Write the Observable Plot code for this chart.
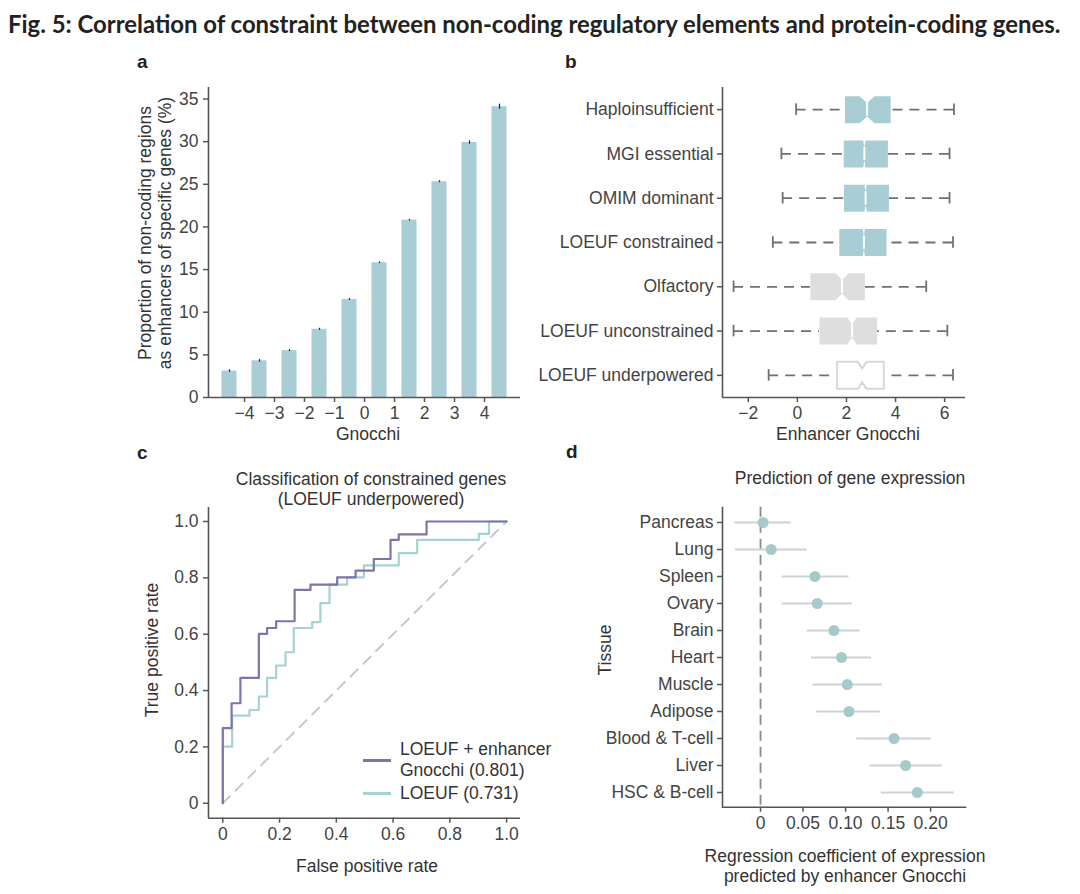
<!DOCTYPE html>
<html><head><meta charset="utf-8">
<script src="https://cdn.jsdelivr.net/npm/d3@7"></script>
<script src="https://cdn.jsdelivr.net/npm/@observablehq/plot@0.6"></script>
<style>
body{margin:0;background:#fff;}
#root{position:relative;width:1080px;height:894px;overflow:hidden;font-family:"Liberation Sans",Arial,sans-serif;color:#333;background:#fff;}
.abs{position:absolute;white-space:nowrap;line-height:1.15;}
.lab{font-size:17.5px;color:#333;transform:translate(-50%,-50%);text-align:center;}
.rot{transform:translate(-50%,-50%) rotate(-90deg);}
.letter{font-weight:bold;font-size:19px;color:#222;transform:translate(0,-50%);}
#title{left:8px;top:12px;font-family:Lato,"Liberation Sans",sans-serif;font-weight:bold;font-size:21px;color:#222;line-height:1;}
.leg{font-size:17.5px;color:#333;}
</style></head><body><div id="root"></div>
<script>
// ---------- Panel a data ----------
const gnocchiBins = [-4.5, -3.5, -2.5, -1.5, -0.5, 0.5, 1.5, 2.5, 3.5, 4.5];
const enhancerPct = [3.1, 4.3, 5.5, 8.0, 11.5, 15.8, 20.8, 25.3, 29.9, 34.1];
const enhancerErr = [0.15, 0.15, 0.12, 0.12, 0.1, 0.1, 0.1, 0.12, 0.2, 0.3];
const gnocchiTicks = [-4, -3, -2, -1, 0, 1, 2, 3, 4];
const pctTicks = [0, 5, 10, 15, 20, 25, 30, 35];

// ---------- Panel b data ----------
const geneSets = ["Haploinsufficient", "MGI essential", "OMIM dominant", "LOEUF constrained", "Olfactory", "LOEUF unconstrained", "LOEUF underpowered"];
const geneSetGroup = ["constrained", "constrained", "constrained", "constrained", "neutral", "neutral", "underpowered"];
const boxLow    = [-0.05, -0.65, -0.6, -1.0, -2.6, -2.6, -1.17];
const boxQ1     = [1.94, 1.89, 1.9, 1.71, 0.53, 0.9, 1.62];
const boxMedian = [2.84, 2.73, 2.78, 2.71, 1.82, 2.23, 2.64];
const boxQ3     = [3.8, 3.69, 3.73, 3.63, 2.75, 3.25, 3.52];
const boxHigh   = [6.38, 6.2, 6.2, 6.34, 5.25, 6.11, 6.34];
const boxNotch  = [0.3, 0.05, 0.05, 0.04, 0.26, 0.2, 0.17];
const enhancerTicks = [-2, 0, 2, 4, 6];

// ---------- Panel c data ----------
const rocFprCombined = [0, 0, 0.031, 0.062, 0.127, 0.156, 0.188, 0.253, 0.309, 0.403, 0.468, 0.532, 0.591, 0.62, 0.718, 1.0];
const rocTprCombined = [0, 0.267, 0.355, 0.445, 0.601, 0.622, 0.646, 0.757, 0.776, 0.802, 0.826, 0.867, 0.935, 0.954, 1.0, 1.0];
const rocFprLoeuf = [0, 0, 0.033, 0.094, 0.127, 0.156, 0.188, 0.221, 0.25, 0.315, 0.344, 0.376, 0.438, 0.497, 0.62, 0.685, 0.902, 0.938, 1.0];
const rocTprLoeuf = [0, 0.201, 0.311, 0.331, 0.379, 0.445, 0.489, 0.536, 0.622, 0.643, 0.71, 0.776, 0.802, 0.844, 0.888, 0.935, 0.956, 1.0, 1.0];
const chanceLine = [0, 1];
const rateTicks = [0, 0.2, 0.4, 0.6, 0.8, 1.0];
const rocLabels = ["LOEUF + enhancer\nGnocchi (0.801)", "LOEUF (0.731)"];

// ---------- Panel d data ----------
const tissues = ["Pancreas", "Lung", "Spleen", "Ovary", "Brain", "Heart", "Muscle", "Adipose", "Blood & T-cell", "Liver", "HSC & B-cell"];
const coefEstimate = [0.003, 0.0125, 0.064, 0.0667, 0.0863, 0.0953, 0.102, 0.104, 0.157, 0.1706, 0.1843];
const coefLow  = [-0.030, -0.0294, 0.0255, 0.0255, 0.055, 0.060, 0.0616, 0.0659, 0.113, 0.1286, 0.142];
const coefHigh = [0.036, 0.055, 0.104, 0.108, 0.117, 0.1306, 0.143, 0.141, 0.2008, 0.2137, 0.228];
const coefTicks = [0, 0.05, 0.10, 0.15, 0.20];

// ---------- styles ----------
const TEAL = "#a9cdd4", GREY = "#dedede", PURPLE = "#7c76a8", ROC_TEAL = "#a6d2d1", DOT = "#a6c9cb", CI = "#cbd4d5";
const AXIS_COLOR = "#444";
const baseStyle = {fontFamily: '"Liberation Sans", Arial, sans-serif', fontSize: "17.5px", color: AXIS_COLOR, background: "transparent", overflow: "visible"};
const minus = d => d < 0 ? "\u2212" + Math.abs(d) : String(d);
const axisOpts = {label: null, tickSize: 5, strokeWidth: 1.5, stroke: "#555"};
const axisLineStyle = {stroke: "#555", strokeWidth: 1.6};

const root = document.getElementById("root");
function put(svg, left, top) {
  svg.style.position = "absolute"; svg.style.left = left + "px"; svg.style.top = top + "px";
  root.appendChild(svg);
}
function place(html, cx, cy, cls) {
  const d = document.createElement("div");
  d.className = "abs " + cls; d.innerHTML = html;
  d.style.left = cx + "px"; d.style.top = cy + "px";
  root.appendChild(d); return d;
}
// axis lines along the left and bottom edges of the frame (domain minima)
function frameLines(xDomain, yBottom) {
  return [Plot.ruleX([xDomain[0]], axisLineStyle), Plot.ruleY([yBottom], axisLineStyle)];
}

// ---------- Panel a ----------
const xDomA = [-5.2, 5.2], yDomA = [0, 36.35];
const dataA = gnocchiBins.map((g, i) => ({g, v: enhancerPct[i], e: enhancerErr[i]}));
put(Plot.plot({
  width: 420, height: 380, marginLeft: 88, marginRight: 20, marginTop: 17, marginBottom: 53,
  style: baseStyle,
  x: {domain: xDomA},
  y: {domain: yDomA},
  marks: [
    Plot.rectY(dataA, {x1: d => d.g - 0.25, x2: d => d.g + 0.25, y: "v", fill: TEAL}),
    Plot.ruleX(dataA, {x: "g", y1: d => d.v - d.e, y2: d => d.v + d.e, stroke: "#222", strokeWidth: 1.2}),
    ...frameLines(xDomA, yDomA[0]),
    Plot.axisX({...axisOpts, ticks: gnocchiTicks, tickFormat: minus}),
    Plot.axisY({...axisOpts, ticks: pctTicks, tickPadding: 5})
  ]
}), 120, 70);

// ---------- Panel b ----------
const xDomB = [-3.05, 6.85], yDomB = [-0.5, 6.5];
const H = 0.305;
const rowsB = geneSets.map((name, i) => ({i, name, group: geneSetGroup[i], lo: boxLow[i], q1: boxQ1[i], med: boxMedian[i], q3: boxQ3[i], hi: boxHigh[i], n: boxNotch[i]}));
const poly = rowsB.flatMap(r => [
  [r.q1, r.i - H], [r.med - r.n, r.i - H], [r.med, r.i - H / 2], [r.med + r.n, r.i - H], [r.q3, r.i - H],
  [r.q3, r.i + H], [r.med + r.n, r.i + H], [r.med, r.i + H / 2], [r.med - r.n, r.i + H], [r.q1, r.i + H]
].map(([x, y]) => ({x, y, row: r.i, group: r.group})));
const whiskerStyle = {stroke: "#707070", strokeWidth: 1.8};
put(Plot.plot({
  width: 450, height: 380, marginLeft: 192, marginRight: 15, marginTop: 17, marginBottom: 53,
  style: baseStyle,
  x: {domain: xDomB},
  y: {domain: yDomB, reverse: true},
  marks: [
    Plot.ruleY(rowsB, {y: "i", x1: "lo", x2: "q1", ...whiskerStyle, strokeDasharray: "10,7"}),
    Plot.ruleY(rowsB, {y: "i", x1: "hi", x2: "q3", ...whiskerStyle, strokeDasharray: "10,7"}),
    Plot.ruleX(rowsB, {x: "lo", y1: d => d.i - 0.13, y2: d => d.i + 0.13, ...whiskerStyle}),
    Plot.ruleX(rowsB, {x: "hi", y1: d => d.i - 0.13, y2: d => d.i + 0.13, ...whiskerStyle}),
    Plot.line(poly.filter(d => d.group === "constrained"), {x: "x", y: "y", z: "row", fill: TEAL, stroke: "none", curve: "linear-closed"}),
    Plot.line(poly.filter(d => d.group === "neutral"), {x: "x", y: "y", z: "row", fill: GREY, stroke: "none", curve: "linear-closed"}),
    Plot.line(poly.filter(d => d.group === "underpowered"), {x: "x", y: "y", z: "row", fill: "white", stroke: "#d8d8d8", strokeWidth: 2, curve: "linear-closed"}),
    Plot.ruleX(rowsB.filter(d => d.group !== "underpowered"), {x: "med", y1: d => d.i - H / 2, y2: d => d.i + H / 2, stroke: "white", strokeWidth: 2}),
    ...frameLines(xDomB, yDomB[1]),
    Plot.axisX({...axisOpts, ticks: enhancerTicks, tickFormat: minus}),
    Plot.axisY({...axisOpts, ticks: geneSets.map((_, i) => i), tickFormat: i => geneSets[i], tickPadding: 4})
  ]
}), 530, 70);

// ---------- Panel c ----------
const xDomC = [-0.0504, 1.049], yDomC = [-0.053, 1.0497];
const rocA = rocFprCombined.map((x, i) => ({x, y: rocTprCombined[i]}));
const rocB = rocFprLoeuf.map((x, i) => ({x, y: rocTprLoeuf[i]}));
const fmt1 = d => d === 0 ? "0" : d.toFixed(1);
put(Plot.plot({
  width: 420, height: 370, marginLeft: 88, marginRight: 20, marginTop: 17, marginBottom: 42.3,
  style: baseStyle,
  x: {domain: xDomC},
  y: {domain: yDomC},
  marks: [
    Plot.line(chanceLine, {x: d => d, y: d => d, stroke: "#c8c8c8", strokeWidth: 2, strokeDasharray: "10,8"}),
    Plot.line(rocB, {x: "x", y: "y", curve: "step-after", stroke: ROC_TEAL, strokeWidth: 2.2}),
    Plot.line(rocA, {x: "x", y: "y", curve: "step-after", stroke: PURPLE, strokeWidth: 2.2}),
    ...frameLines(xDomC, yDomC[0]),
    Plot.axisX({...axisOpts, ticks: rateTicks, tickFormat: fmt1}),
    Plot.axisY({...axisOpts, ticks: rateTicks, tickFormat: fmt1, tickPadding: 5})
  ]
}), 120, 490);

// ---------- Panel d ----------
const xDomD = [-0.0447, 0.241];
const dataD = tissues.map((t, i) => ({t, est: coefEstimate[i], lo: coefLow[i], hi: coefHigh[i]}));
const fmt2 = d => d === 0 ? "0" : d.toFixed(2);
put(Plot.plot({
  width: 450, height: 370, marginLeft: 192, marginRight: 15, marginTop: 16.7, marginBottom: 53.3,
  style: baseStyle,
  x: {domain: xDomD},
  y: {domain: tissues, type: "point", padding: 0.5},
  marks: [
    Plot.ruleX([0], {stroke: "#8a8a8a", strokeWidth: 1.8, strokeDasharray: "10,6"}),
    Plot.ruleY(dataD, {y: "t", x1: "lo", x2: "hi", stroke: CI, strokeWidth: 2}),
    Plot.dot(dataD, {x: "est", y: "t", r: 5.5, fill: DOT, stroke: "none"}),
    Plot.ruleX([xDomD[0]], axisLineStyle),
    Plot.frame({anchor: "bottom", ...axisLineStyle}),
    Plot.axisX({...axisOpts, ticks: coefTicks, tickFormat: fmt2}),
    Plot.axisY({...axisOpts, tickPadding: 4})
  ]
}), 530, 490);

// ---------- Texts ----------
const title = document.createElement("div");
title.id = "title"; title.className = "abs";
title.textContent = "Fig. 5: Correlation of constraint between non-coding regulatory elements and protein-coding genes.";
root.appendChild(title);
{
  const target = 1052; let fs = 21;
  for (let k = 0; k < 4; k++) { const w = title.getBoundingClientRect().width; fs = fs * target / w; title.style.fontSize = fs + "px"; }
}

place("a", 137, 62, "letter");
place("b", 565, 62, "letter");
place("c", 137, 453, "letter");
place("d", 566, 452, "letter");

place("Proportion of non-coding regions<br>as enhancers of specific genes (%)", 155, 233, "lab rot");
place("Gnocchi", 368, 434, "lab");
place("Enhancer Gnocchi", 848, 434, "lab");
place("Classification of constrained genes<br>(LOEUF underpowered)", 371, 489, "lab");
place("True positive rate", 152, 650, "lab rot");
place("False positive rate", 367, 866, "lab");
place("Prediction of gene expression", 850, 478, "lab");
place("Tissue", 605, 650, "lab rot");
place("Regression coefficient of expression<br>predicted by enhancer Gnocchi", 845, 866, "lab");

const legendColors = [PURPLE, ROC_TEAL];
const legendY = [760, 793];
rocLabels.forEach((txt, i) => {
  const sw = document.createElement("div");
  sw.className = "abs";
  sw.style.cssText += `left:363px;top:${legendY[i] - 1.5}px;width:28px;height:0;border-top:3px solid ${legendColors[i]};`;
  root.appendChild(sw);
  const t = document.createElement("div");
  t.className = "abs leg";
  t.innerHTML = txt.replace("\n", "<br>");
  t.style.left = "400px"; t.style.lineHeight = "21px";
  root.appendChild(t);
  const lines = txt.split("\n").length;
  t.style.top = (legendY[i] - (lines === 2 ? 21 : 10.5)) + "px";
});
</script></body></html>
